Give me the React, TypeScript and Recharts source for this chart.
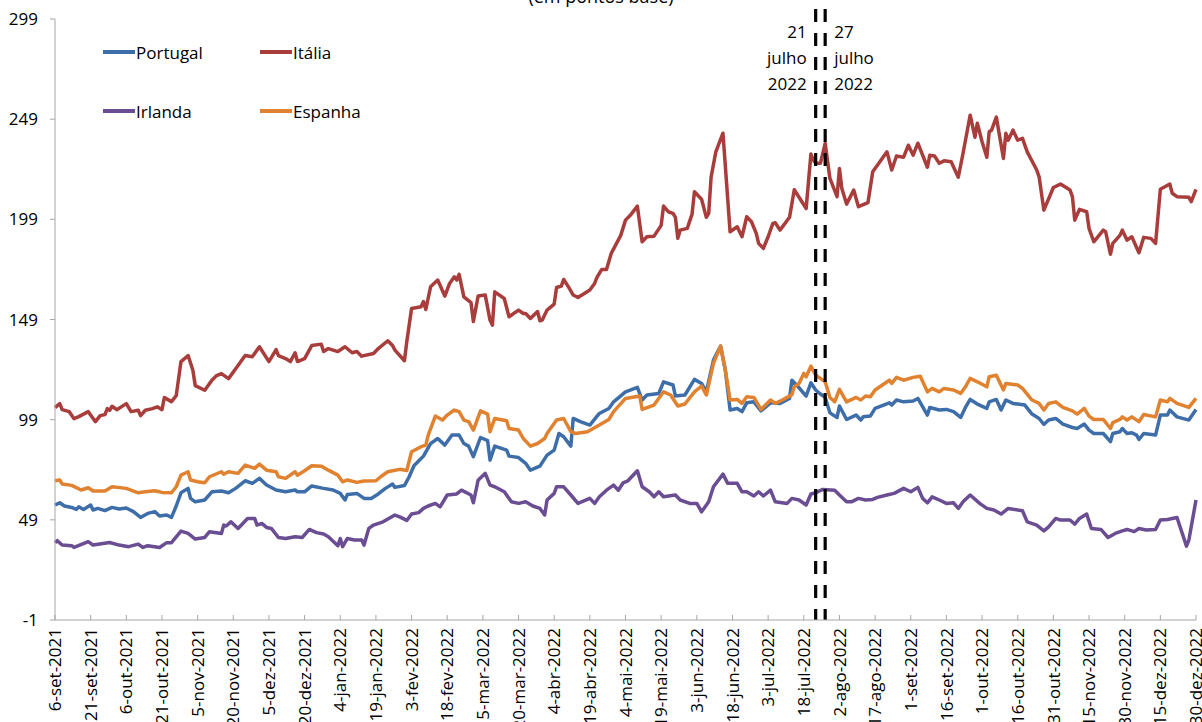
import { LineChart, Line, XAxis, YAxis, ReferenceLine, Legend } from 'recharts';

const FONT = "'Open Sans', sans-serif";

// eixo X: dias desde 6-set-2021, um rótulo a cada 15 dias
const tickDays = [0, 15, 30, 45, 60, 75, 90, 105, 120, 135, 150, 165, 180, 195, 210, 225, 240, 255, 270, 285, 300, 315, 330, 345, 360, 375, 390, 405, 420, 435, 450, 465, 480];
const tickLabels = [
  '6-set-2021', '21-set-2021', '6-out-2021', '21-out-2021', '5-nov-2021', '20-nov-2021', '5-dez-2021', '20-dez-2021',
  '4-jan-2022', '19-jan-2022', '3-fev-2022', '18-fev-2022', '5-mar-2022', '20-mar-2022', '4-abr-2022', '19-abr-2022',
  '4-mai-2022', '19-mai-2022', '3-jun-2022', '18-jun-2022', '3-jul-2022', '18-jul-2022', '2-ago-2022', '17-ago-2022',
  '1-set-2022', '16-set-2022', '1-out-2022', '16-out-2022', '31-out-2022', '15-nov-2022', '30-nov-2022', '15-dez-2022', '30-dez-2022',
];
const yTicks = [-1, 49, 99, 149, 199, 249, 299];

// linhas verticais: 21 e 27 de julho de 2022
const markerDays = [320, 324];

// [dia, pontos base]
const portugal: [number, number][] = [
  [0, 56.4], [2, 57.5], [4, 55.9], [7, 55.2], [9, 54.2], [10, 55.5], [12, 54.2], [15, 56.4], [16, 53.9], [18, 54.7],
  [21, 53.6], [24, 55.2], [27, 54.4], [30, 54.9], [33, 53.1], [36, 50.2], [39, 52.2], [42, 53.1], [44, 50.9], [47, 51.4],
  [49, 50.2], [51, 55.9], [53, 62.5], [56, 64.7], [57, 59.7], [59, 58], [63, 58.9], [66, 63], [70, 63.4], [73, 62.5],
  [76, 64.7], [80, 68.5], [83, 67.2], [86, 69.7], [89, 66.4], [93, 63.9], [97, 63], [101, 63.9], [102, 63], [105, 63],
  [108, 65.9], [113, 64.7], [117, 63.9], [120, 62.2], [122, 58.9], [123, 61.7], [127, 62.2], [130, 59.7], [133, 59.7], [136, 61.9],
  [139, 64.7], [142, 66.9], [143, 65.2], [147, 66.1], [149, 70.5], [151, 76], [155, 80.8], [158, 87], [161, 89.6], [164, 86.3],
  [167, 91.3], [170, 91.3], [172, 87.1], [174, 85.8], [176, 80.5], [179, 90.1], [182, 88.5], [183, 78.8], [185, 85.8], [190, 83.8],
  [191, 80.8], [195, 80.1], [198, 77.2], [200, 73.8], [204, 75.8], [207, 81.3], [210, 83.8], [212, 92.1], [214, 90.5], [217, 85.8],
  [218, 99.6], [221, 98], [225, 96.3], [229, 102.1], [233, 104.6], [235, 107.9], [240, 112.9], [245, 115.1], [247, 108.8], [249, 111.3],
  [254, 112.1], [256, 117.9], [260, 116.3], [261, 110.8], [265, 111.3], [269, 119.1], [272, 117.1], [274, 112.9], [277, 128.7], [280, 135.7],
  [282, 123.7], [284, 103.8], [287, 104.6], [289, 103], [291, 107.4], [294, 107.9], [297, 103.4], [301, 107.4], [305, 107.1], [309, 109.6],
  [310, 118.7], [312, 116.3], [316, 110.8], [318, 117.4], [320, 113.8], [322, 111.8], [324, 110.1], [326, 102.4], [329, 100.1], [330, 105.8],
  [333, 99.1], [337, 101.3], [339, 98.8], [340, 100.4], [343, 100.8], [345, 104.6], [351, 107.4], [352, 106.3], [354, 108.8], [357, 107.9],
  [361, 108.3], [363, 109.6], [367, 101.3], [368, 105.1], [372, 103.8], [375, 104.1], [378, 103], [381, 100.1], [383, 105.1], [385, 109.1],
  [388, 106.8], [392, 104.6], [393, 107.9], [396, 109.1], [398, 103.8], [400, 108.8], [403, 107.1], [408, 106.3], [411, 101.8], [414, 99.6],
  [416, 96.6], [418, 98.8], [421, 99.6], [424, 96.8], [428, 95.1], [430, 94.6], [433, 96.8], [435, 93.8], [437, 92.1], [441, 92.1],
  [444, 88], [445, 92.1], [448, 93], [449, 94.6], [451, 92.1], [453, 92.5], [455, 91.3], [456, 89.1], [458, 92.1], [463, 91.3],
  [465, 101.3], [468, 101.3], [469, 103.8], [472, 100.4], [477, 98.8], [480, 104.1],
];

const italia: [number, number][] = [
  [0, 105], [2, 107], [3, 104], [6, 103], [8, 99.5], [10, 100.5], [14, 103], [17, 98], [19, 101], [21, 101.5],
  [22, 104.5], [23, 103.7], [24, 105.7], [26, 104], [30, 107], [32, 103], [35, 103.7], [36, 101], [38, 103.7], [41, 104.5],
  [43, 105.4], [45, 104], [46, 110], [49, 108], [51, 111], [53, 128], [56, 131], [58, 123.7], [59, 116], [63, 113.7],
  [66, 118.7], [68, 121], [70, 122], [73, 119.5], [77, 126], [80, 131], [83, 130.4], [86, 135.4], [90, 128], [93, 134],
  [94, 131], [97, 129.5], [99, 128], [101, 132.4], [102, 128], [105, 129.5], [108, 136], [112, 136.7], [113, 133], [115, 134.5],
  [119, 133], [122, 135.4], [125, 132.4], [127, 133], [129, 130.7], [134, 132], [136, 134.5], [140, 138.4], [142, 136], [143, 133.7],
  [147, 128.4], [148, 138], [150, 154.5], [154, 155.4], [155, 158], [156, 154], [158, 165.3], [161, 168.7], [164, 160.7], [166, 167],
  [168, 170.3], [169, 168.7], [170, 171.5], [172, 160.3], [175, 157.4], [176, 148], [178, 160.7], [181, 161.2], [183, 148.7], [184, 146.2],
  [185, 162.8], [189, 159.5], [191, 150.4], [195, 153.7], [197, 152], [198, 152], [200, 149.5], [203, 153], [204, 148.4], [205, 148.7],
  [207, 153.7], [210, 156.7], [211, 165], [213, 165.7], [214, 169], [216, 165.3], [218, 161.2], [220, 160], [225, 163.7], [227, 167],
  [228, 170], [230, 174], [232, 174], [234, 182], [238, 191], [240, 198.6], [242, 201], [245, 205.6], [247, 187.8], [249, 190.3],
  [252, 190.6], [255, 196], [256, 205.6], [258, 202.8], [260, 202], [261, 200], [262, 189.5], [263, 193.6], [266, 194.5], [268, 201.6],
  [269, 212.8], [272, 209], [274, 200], [275, 202], [276, 220], [278, 232.7], [281, 242], [284, 192.8], [287, 195.3], [289, 190.3],
  [291, 200.3], [293, 197.8], [295, 192], [296, 187], [298, 184.5], [300, 190.3], [302, 197], [303, 197.3], [305, 193.6], [309, 200],
  [311, 213.8], [313, 210], [316, 204.4], [318, 231.6], [319, 228.6], [320, 227], [322, 227], [324, 236.9], [326, 219.4], [329, 210.3],
  [330, 224.4], [331, 214.4], [333, 206.6], [336, 213.6], [338, 205.3], [342, 207.3], [344, 222.7], [347, 227.7], [350, 232.7], [352, 223.6],
  [354, 230.6], [357, 230], [359, 236], [361, 231], [363, 237], [367, 225], [368, 231], [370, 230.6], [372, 227], [374, 228.2],
  [377, 227.7], [380, 220], [382, 232], [385, 251], [387, 240], [388, 247], [390, 237.7], [392, 230], [393, 242.7], [394, 243.5],
  [396, 250], [399, 229.4], [400, 242], [401, 238.5], [403, 243.5], [405, 238.5], [407, 239.4], [409, 232.7], [413, 223.6], [414, 220.2],
  [416, 203.6], [420, 214.9], [423, 216.6], [427, 213.6], [428, 210.3], [429, 198.6], [431, 204], [434, 202.8], [435, 194.5], [437, 187.8],
  [441, 193.6], [442, 192.8], [444, 181.6], [445, 187], [448, 191], [449, 193.6], [451, 188.6], [453, 190.3], [456, 182.3], [458, 190],
  [461, 189.5], [463, 187], [465, 214], [469, 216.6], [470, 212], [472, 210.3], [477, 210], [478, 207.8], [480, 214],
];

const irlanda: [number, number][] = [
  [0, 37.6], [1, 38.6], [3, 36.4], [7, 36.1], [8, 35.2], [14, 38.1], [16, 36.4], [23, 37.7], [27, 36.4], [31, 35.6],
  [35, 36.9], [37, 35.2], [39, 36.1], [44, 35.2], [47, 37.6], [49, 37.6], [53, 43.4], [56, 42.2], [59, 39.4], [63, 40.2],
  [65, 43.1], [70, 42.2], [71, 46.4], [72, 45.9], [74, 48], [77, 44.7], [81, 49.7], [84, 49.7], [85, 46.4], [87, 47.2],
  [89, 45.2], [91, 44.7], [94, 40.2], [97, 39.7], [101, 40.6], [104, 40.2], [107, 44.2], [110, 42.6], [113, 41.9], [115, 40.6],
  [119, 36.1], [120, 39.7], [121, 35.6], [123, 39.7], [126, 38.9], [129, 38.9], [130, 36.4], [132, 44.7], [134, 46.4], [138, 48],
  [143, 51.4], [145, 50.5], [148, 48.7], [150, 51.9], [153, 52.6], [155, 54.7], [157, 55.9], [160, 57.2], [162, 55.5], [165, 61.4],
  [169, 61.9], [171, 63.8], [175, 61.4], [176, 57.5], [178, 68.8], [181, 72.2], [183, 66.3], [185, 65.5], [189, 63], [192, 58],
  [195, 57.2], [198, 58], [201, 55.9], [204, 54.7], [206, 51.4], [207, 58.9], [210, 62.2], [211, 65.5], [214, 65.5], [217, 61.4],
  [220, 57.2], [225, 59.7], [227, 57.2], [229, 60.5], [232, 63.8], [235, 66.3], [237, 63.8], [239, 67.5], [241, 68.5], [245, 73.5],
  [247, 65.5], [250, 63], [252, 60.5], [254, 63], [256, 60.5], [261, 61.4], [263, 58.9], [267, 57.2], [270, 57.2], [272, 53],
  [275, 58], [277, 65.5], [281, 71.8], [283, 67.2], [287, 67.2], [289, 63], [291, 63], [294, 60.9], [296, 63], [298, 60.9],
  [301, 63.8], [303, 58], [308, 57.2], [310, 59.7], [313, 58.9], [316, 56.4], [318, 61.9], [320, 62.5], [323, 64.2], [328, 63.8],
  [330, 61.4], [333, 58], [335, 58], [338, 59.7], [341, 58.9], [344, 59.2], [346, 60.2], [350, 61.4], [353, 62.2], [357, 64.7],
  [360, 63], [363, 65.2], [365, 59.7], [367, 57.5], [369, 60.5], [372, 58.9], [375, 57.2], [378, 57.5], [380, 54.7], [382, 58],
  [385, 61.4], [389, 57.2], [392, 54.7], [395, 53.9], [398, 51.9], [401, 54.7], [407, 53.5], [409, 48], [413, 46.4], [416, 43.5],
  [418, 45.5], [421, 49.7], [423, 48.9], [427, 48.9], [429, 46.9], [431, 49.7], [434, 51.9], [436, 44.7], [440, 44.2], [443, 40.2],
  [446, 42.2], [449, 43.5], [451, 44.2], [454, 43.1], [456, 44.7], [459, 43.9], [463, 44.2], [465, 48.9], [468, 49.2], [472, 50.2],
  [476, 35.9], [477, 38.9], [480, 58.9],
];

const espanha: [number, number][] = [
  [0, 68.5], [2, 68.9], [3, 66.9], [7, 66.2], [11, 63.9], [14, 65], [16, 63.4], [21, 63.4], [24, 65.5], [30, 64.7],
  [35, 62.5], [38, 63], [42, 63.5], [45, 62.7], [49, 62.5], [51, 65.5], [53, 71.3], [56, 73], [57, 68.9], [60, 68],
  [63, 67.5], [65, 70.5], [70, 73], [71, 71.8], [73, 73], [77, 72.2], [80, 76.3], [84, 74.7], [86, 76.8], [89, 73.8],
  [93, 73], [94, 70.5], [97, 69.7], [101, 73], [102, 71.3], [105, 73.5], [108, 76], [112, 75.8], [115, 73.8], [119, 71.3],
  [121, 68], [123, 68.9], [127, 67.7], [130, 68.4], [135, 68.5], [137, 70.5], [140, 73], [142, 73.5], [145, 74.2], [148, 73.6],
  [150, 83], [154, 85.5], [156, 86.3], [157, 91.3], [160, 100.8], [163, 98.8], [165, 101.3], [168, 103.8], [170, 103], [172, 98.8],
  [174, 98], [176, 93.8], [179, 103.4], [182, 101.8], [183, 93], [185, 99.6], [190, 98.5], [191, 94.6], [195, 93.8], [197, 89.6],
  [200, 85.8], [203, 87.1], [206, 89.6], [207, 92.1], [211, 98.8], [214, 99.6], [217, 93], [219, 92.1], [224, 93], [229, 96.3],
  [233, 99.1], [235, 103], [240, 109.6], [246, 110.8], [247, 104.1], [252, 106.3], [256, 112.9], [259, 111.3], [262, 105.8], [265, 106.8],
  [269, 112.9], [272, 115.8], [274, 111.3], [277, 127.1], [280, 135.7], [282, 123.7], [284, 108.8], [287, 109.1], [289, 107.1], [291, 110.4],
  [294, 110.1], [297, 104.1], [301, 108.8], [303, 107.1], [306, 108.8], [310, 111.5], [311, 115.4], [313, 117.1], [315, 122.1], [316, 120.4],
  [318, 125.7], [320, 121.2], [322, 119.6], [324, 117.9], [326, 110.1], [328, 107.9], [330, 114.1], [333, 107.9], [337, 110.1], [339, 108.8],
  [341, 110.8], [343, 110.4], [345, 113.8], [351, 118.7], [352, 117.1], [354, 120.1], [357, 118.7], [361, 120.1], [364, 120.7], [367, 112.9],
  [369, 114.6], [372, 112.9], [374, 114.6], [378, 113.8], [381, 112.1], [383, 115.4], [385, 119.6], [388, 117.9], [392, 115.4], [393, 120.4],
  [396, 121.2], [399, 113.8], [400, 117.1], [405, 116.3], [407, 114.6], [411, 108.8], [414, 107.1], [416, 103.8], [418, 107.1], [421, 107.9],
  [424, 105.1], [428, 103.4], [430, 101.8], [433, 104.6], [435, 100.8], [437, 99.1], [441, 99.1], [444, 94.6], [445, 97.5], [448, 99.1],
  [449, 100.4], [451, 98.8], [453, 100.4], [456, 98], [458, 101.6], [463, 100.4], [465, 108.8], [468, 107.9], [469, 109.6], [472, 107.1],
  [477, 105.1], [480, 109.6],
];

const series = [
  { name: 'Portugal', color: '#3d6ea9', points: portugal },
  { name: 'Itália', color: '#a83d3b', points: italia },
  { name: 'Irlanda', color: '#6a4d92', points: irlanda },
  { name: 'Espanha', color: '#e0822f', points: espanha },
];

function XTick({ x, y, payload }: any) {
  const label = tickLabels[tickDays.indexOf(payload.value)] ?? '';
  return (
    <g>
      <line x1={x} x2={x} y1={y - 5} y2={y} stroke="#a6a6a6" />
      <text
        transform={`translate(${x},${y + 8}) rotate(-90)`}
        textAnchor="end"
        dy="0.36em"
        fontSize={17}
        fontFamily={FONT}
        fill="#000"
      >
        {label}
      </text>
    </g>
  );
}

// legenda em 2x2, na ordem das séries
function LegendBox({ payload }: any) {
  const byName: Record<string, string> = {};
  (payload || []).forEach((p: any) => { byName[p.value] = p.color; });
  return (
    <div style={{ display: 'grid', gridTemplateColumns: '157px 157px', rowGap: 35, fontFamily: FONT, fontSize: 17, color: '#000' }}>
      {series.map((s) => (
        <div key={s.name} style={{ display: 'flex', alignItems: 'center', height: 24 }}>
          <span style={{ display: 'inline-block', width: 32, height: 4, background: byName[s.name] || s.color, marginRight: 1 }} />
          {s.name}
        </div>
      ))}
    </div>
  );
}

// linha tracejada com o texto da data; a primeira também leva o subtítulo cortado no topo
function Marker(props: any, side: 'left' | 'right') {
  const { x1, y1, y2 } = props;
  const bottom = Math.max(y1, y2);
  const tx = side === 'left' ? x1 - 9 : x1 + 9;
  const anchor = side === 'left' ? 'end' : 'start';
  const day = side === 'left' ? '21' : '27';
  return (
    <g>
      <line x1={x1} x2={x1} y1={9} y2={bottom} stroke="#000" strokeWidth={3.2} strokeDasharray="13 11" />
      <text x={tx} textAnchor={anchor} fontSize={17} fontFamily={FONT} fill="#000">
        <tspan x={tx} y={38}>{day}</tspan>
        <tspan x={tx} y={64}>julho</tspan>
        <tspan x={tx} y={90}>2022</tspan>
      </text>
      {side === 'left' && (
        <text x={601} y={3} textAnchor="middle" fontSize={18} fontFamily={FONT} fill="#000">
          (em pontos base)
        </text>
      )}
    </g>
  );
}

export default function App() {
  return (
    <div style={{ position: 'absolute', left: 0, top: 0, width: 1202, height: 722, background: '#fff' }}>
      <LineChart width={1202} height={722} margin={{ top: 19, right: 6, bottom: 0, left: 0 }}>
        <XAxis
          dataKey="d"
          type="number"
          domain={[0, 480]}
          ticks={tickDays}
          interval={0}
          height={102}
          tickSize={0}
          tickMargin={0}
          tick={<XTick />}
          stroke="#a6a6a6"
          allowDuplicatedCategory={false}
        />
        <YAxis
          type="number"
          domain={[-1, 299]}
          ticks={yTicks}
          interval={0}
          width={55}
          tickSize={5}
          tickMargin={12}
          stroke="#a6a6a6"
          tick={{ fill: '#000', fontSize: 17, fontFamily: FONT }}
        />
        <Legend
          layout="horizontal"
          verticalAlign="middle"
          align="center"
          content={<LegendBox />}
          wrapperStyle={{ position: 'absolute', left: 103, top: 40, width: 330 }}
        />
        {series.map((s) => (
          <Line
            key={s.name}
            name={s.name}
            data={s.points.map(([d, v]) => ({ d, v }))}
            dataKey="v"
            type="linear"
            stroke={s.color}
            strokeWidth={3.5}
            strokeLinejoin="round"
            dot={false}
            activeDot={false}
            isAnimationActive={false}
          />
        ))}
        <ReferenceLine x={markerDays[0]} shape={(p: any) => Marker(p, 'left')} />
        <ReferenceLine x={markerDays[1]} shape={(p: any) => Marker(p, 'right')} />
      </LineChart>
    </div>
  );
}
